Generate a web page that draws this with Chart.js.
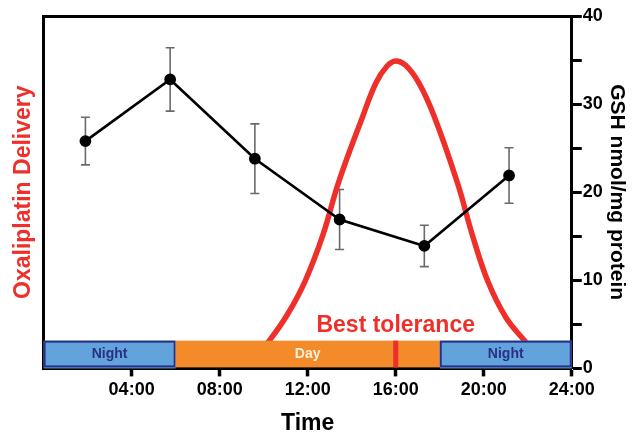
<!DOCTYPE html>
<html>
<head>
<meta charset="utf-8">
<script src="https://cdn.jsdelivr.net/npm/chart.js@4/dist/chart.umd.min.js"></script>
<style>
  html, body { margin: 0; padding: 0; background: #fff; }
  #wrap { width: 633px; height: 435px; }
</style>
</head>
<body>
<div id="wrap"><canvas id="c" width="633" height="435"></canvas></div>
<script>
// ---- data ----
const gshTime  = [1.9, 5.75, 9.6, 13.45, 17.3, 21.15];
const gshMean  = [25.8, 32.8, 23.8, 16.9, 13.9, 21.9];
const gshError = [2.7, 3.6, 3.95, 3.4, 2.35, 3.15];

const deliveryTime  = [9.5, 10.3, 11.1, 11.9, 12.7, 13.4, 14.5, 15.1, 15.6, 16.0, 16.45, 17.05, 17.75, 18.8, 19.5, 20.2, 21.0, 21.8, 22.6];
const deliveryLevel = [1.0, 3.3, 6.2, 10.0, 15.2, 21.1, 28.6, 32.4, 34.3, 34.9, 34.4, 32.4, 28.6, 21.1, 15.0, 9.8, 5.8, 3.3, 1.0];

const periodStart = [0, 6, 18];
const periodEnd   = [6, 18, 24];
const periodLabel = ['Night', 'Day', 'Night'];
const periodKind  = ['night', 'day', 'night'];
const bandTop = 3.15;
const bestToleranceTime = 16;

const xTickHours = [4, 8, 12, 16, 20, 24];

const FONT = '"Liberation Sans", Arial, Helvetica, sans-serif';

function hourLabel(v) {
  return (v < 10 ? '0' : '') + v + ':00';
}

const overlayPlugin = {
  id: 'overlay',
  beforeDatasetsDraw(chart) {
    const ctx = chart.ctx;
    const xs = chart.scales.x, ys = chart.scales.y;
    ctx.save();
    ctx.strokeStyle = '#6a6a6a';
    ctx.lineWidth = 1.6;
    for (let i = 0; i < gshTime.length; i++) {
      const px = xs.getPixelForValue(gshTime[i]);
      const top = ys.getPixelForValue(gshMean[i] + gshError[i]);
      const bot = ys.getPixelForValue(gshMean[i] - gshError[i]);
      ctx.beginPath();
      ctx.moveTo(px, top); ctx.lineTo(px, bot);
      ctx.moveTo(px - 4.5, top); ctx.lineTo(px + 4.5, top);
      ctx.moveTo(px - 4.5, bot); ctx.lineTo(px + 4.5, bot);
      ctx.stroke();
    }
    ctx.restore();
  },
  afterDatasetsDraw(chart) {
    const ctx = chart.ctx;
    const xs = chart.scales.x, ys = chart.scales.y;
    const y0 = ys.getPixelForValue(0);
    const y1 = ys.getPixelForValue(bandTop);
    ctx.save();
    for (let i = 0; i < periodStart.length; i++) {
      const a = xs.getPixelForValue(periodStart[i]);
      const b = xs.getPixelForValue(periodEnd[i]);
      if (periodKind[i] === 'night') {
        ctx.fillStyle = '#62a3dc';
        ctx.fillRect(a, y1, b - a, y0 - y1);
        ctx.strokeStyle = '#2a2f86';
        ctx.lineWidth = 2;
        ctx.strokeRect(a + 1, y1 + 1, b - a - 2, y0 - y1 - 3);
      } else {
        ctx.fillStyle = '#f38b2a';
        ctx.fillRect(a, y1, b - a, y0 - y1 - 1);
      }
    }
    const bx = xs.getPixelForValue(bestToleranceTime);
    ctx.fillStyle = '#ee2f2a';
    ctx.fillRect(bx - 2.5, y1, 5, y0 - y1 - 1);
    ctx.textAlign = 'center';
    ctx.textBaseline = 'middle';
    ctx.font = 'bold 14px ' + FONT;
    for (let i = 0; i < periodStart.length; i++) {
      const a = xs.getPixelForValue(periodStart[i]);
      const b = xs.getPixelForValue(periodEnd[i]);
      ctx.fillStyle = periodKind[i] === 'night' ? '#2a2f86' : '#fff0d8';
      ctx.fillText(periodLabel[i], (a + b) / 2, (y0 + y1) / 2);
    }
    ctx.fillStyle = '#ee2f2a';
    ctx.font = 'bold 23px ' + FONT;
    ctx.fillText('Best tolerance', bx, ys.getPixelForValue(4.9));
    ctx.restore();
  }
};

new Chart(document.getElementById('c'), {
  type: 'line',
  data: {
    datasets: [
      {
        label: 'GSH',
        data: gshTime.map((t, i) => ({ x: t, y: gshMean[i] })),
        xAxisID: 'x', yAxisID: 'y',
        borderColor: '#000', backgroundColor: '#000',
        borderWidth: 2.6, pointRadius: 4.6, pointHoverRadius: 4.6,
        tension: 0, order: 1
      },
      {
        label: 'Oxaliplatin delivery',
        data: deliveryTime.map((t, i) => ({ x: t, y: deliveryLevel[i] })),
        xAxisID: 'x', yAxisID: 'yL',
        borderColor: '#ee2f2a', borderWidth: 5.5,
        pointRadius: 0, pointHoverRadius: 0,
        tension: 0.4, order: 2
      }
    ]
  },
  options: {
    responsive: false,
    animation: false,
    events: [],
    layout: { padding: { top: 16, left: 10, right: 2, bottom: 0 } },
    plugins: { legend: { display: false }, tooltip: { enabled: false } },
    scales: {
      x: {
        type: 'linear', position: 'bottom', min: 0, max: 24,
        afterBuildTicks(scale) { scale.ticks = [0].concat(xTickHours).map(v => ({ value: v })); },
        ticks: {
          callback: v => v === 0 ? '' : hourLabel(v),
          color: '#000', font: { family: FONT, size: 18, weight: 'bold' }, padding: 3, maxRotation: 0
        },
        grid: {
          drawOnChartArea: false, tickLength: 8, tickWidth: 3.5,
          tickColor: c => (c.tick && c.tick.value === 0) ? 'rgba(0,0,0,0)' : '#000'
        },
        border: { display: true, color: '#000', width: 3 },
        title: { display: true, text: 'Time', color: '#000', font: { family: FONT, size: 23, weight: 'bold', lineHeight: 1.0 }, padding: { top: 8, bottom: 0 } }
      },
      xTop: {
        type: 'linear', position: 'top', min: 0, max: 24,
        ticks: { display: false },
        grid: { drawOnChartArea: false, drawTicks: false },
        border: { display: true, color: '#000', width: 3 }
      },
      y: {
        type: 'linear', position: 'right', min: 0, max: 40,
        ticks: {
          stepSize: 5,
          callback: v => (v % 10 === 0) ? String(v) : '',
          color: '#000', font: { family: FONT, size: 18, weight: 'bold' }, padding: 1
        },
        grid: { drawOnChartArea: false, tickLength: 10, tickWidth: 3, tickColor: '#000' },
        border: { display: true, color: '#000', width: 3 },
        title: { display: true, text: 'GSH nmol/mg protein', color: '#000', font: { family: FONT, size: 21, weight: 'bold' }, padding: { top: 2, bottom: 0 } }
      },
      yL: {
        type: 'linear', position: 'left', min: 0, max: 40,
        ticks: { display: false },
        grid: { drawOnChartArea: false, drawTicks: false },
        border: { display: true, color: '#000', width: 3 },
        title: { display: true, text: 'Oxaliplatin Delivery', color: '#ee2f2a', font: { family: FONT, size: 23, weight: 'bold' }, padding: { top: 0, bottom: 6 } }
      }
    }
  },
  plugins: [overlayPlugin]
});
</script>
</body>
</html>
